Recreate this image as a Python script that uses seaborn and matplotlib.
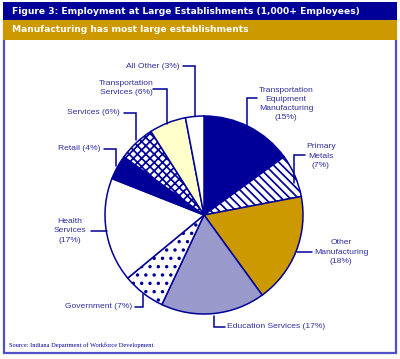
import matplotlib
matplotlib.use("Agg")
import matplotlib.pyplot as plt
import matplotlib.patches as mpatches
import seaborn as sns

# data
sectors = ['Transportation\nEquipment\nManufacturing', 'Primary\nMetals', 'Other\nManufacturing',
           'Education Services', 'Government', 'Health\nServices', 'Retail', 'Services',
           'Transportation\nServices', 'All Other']
shares = [15, 7, 18, 17, 7, 17, 4, 6, 6, 3]

navy = '#000099'
gold = '#cc9900'
txt = '#2e2ea0'
fills = [navy, 'white', gold, '#9999cc', 'white', 'white', navy, 'white', '#ffffcc', 'white']
hatches = [None, '\\\\\\\\', None, None, '..', None, None, 'xxxx', None, None]

sns.set_theme(style="white")
plt.rcParams['font.family'] = ['Liberation Sans', 'DejaVu Sans']
plt.rcParams['hatch.linewidth'] = 1.25

W, H = 400, 359
fig = plt.figure(figsize=(4, 3.59), dpi=100)
ax = fig.add_axes([0, 0, 1, 1])


def Y(y):
    # pixel row (from top) -> axes y
    return H - y


# pie
cx, cy, r = 204, 215, 99
wedges, _ = ax.pie(shares, colors=fills, startangle=90, counterclock=False,
                   center=(cx, Y(cy)), radius=r, frame=True,
                   wedgeprops=dict(edgecolor=navy, linewidth=1.1))
for w, h in zip(wedges, hatches):
    if h:
        w.set_hatch(h)
ax.set_xlim(0, W)
ax.set_ylim(0, H)
ax.set_aspect('auto')
ax.axis('off')

# frame and header bars
ax.add_patch(mpatches.Rectangle((4, Y(353)), 392, 353 - 20, fill=False, edgecolor='#5050c8', lw=1.6))
ax.add_patch(mpatches.Rectangle((3, Y(20)), 394, 18, color=navy, lw=0))
ax.add_patch(mpatches.Rectangle((3, Y(40)), 394, 20, color=gold, lw=0))
ax.text(12, Y(11), 'Figure 3: Employment at Large Establishments (1,000+ Employees)',
        color='white', fontsize=6.6, fontweight='bold', va='center', ha='left', family='DejaVu Sans')
ax.text(12, Y(29.5), 'Manufacturing has most large establishments',
        color='white', fontsize=6.6, fontweight='bold', va='center', ha='left', family='DejaVu Sans')

labels = [f'{s}\n({v}%)' if '\n' in s else f'{s} ({v}%)' for s, v in zip(sectors, shares)]
labels[8] = f'Transportation\nServices ({shares[8]}%)'

# label placement (pixel coords), alignment, leader polyline
layout = [
    ((286, 104), 'center', [(257, 98), (247, 98), (247, 128)]),
    ((321, 156), 'center', [(305, 155), (294, 155), (294, 183)]),
    ((341, 252), 'center', [(312, 252), (297, 252)]),
    ((227, 327), 'left', [(225, 327), (214, 327), (214, 316)]),
    ((132, 307), 'right', [(135, 307), (143, 307), (143, 294)]),
    ((70, 231), 'center', [(91, 231), (107, 231)]),
    ((101, 149), 'right', [(104, 149), (116, 149), (116, 166)]),
    ((120, 113), 'right', [(124, 113), (136, 113), (136, 140)]),
    ((126, 88), 'center', [(153, 89), (167, 89), (167, 124)]),
    ((180, 66), 'right', [(183, 66), (195, 66), (195, 116)]),
]
for lab, ((x, y), ha, pts) in zip(labels, layout):
    ax.text(x, Y(y), lab, ha=ha, va='center', multialignment='center',
            fontsize=6.1, color=txt, linespacing=1.45)
    ax.plot([p[0] for p in pts], [Y(p[1]) for p in pts], color=navy, lw=1.1,
            solid_joinstyle='miter')

ax.text(9, Y(345), 'Source: Indiana Department of Workforce Development',
        family=['Liberation Serif', 'DejaVu Serif'], fontsize=4.6, color=navy,
        va='center', ha='left')

fig.savefig('out.png', dpi=100)
